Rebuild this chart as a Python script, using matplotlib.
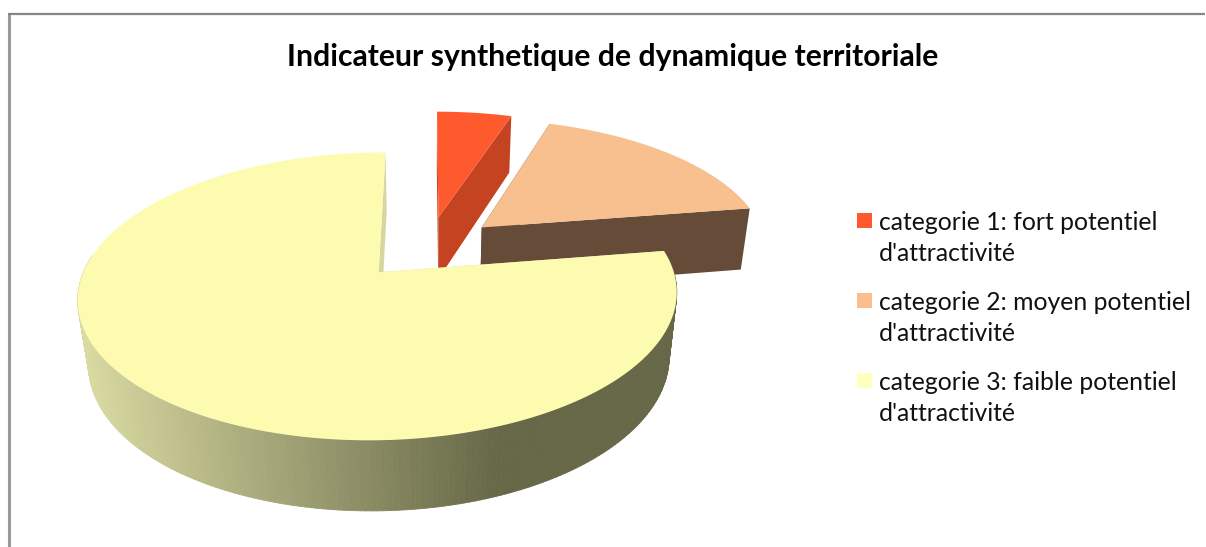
import matplotlib
matplotlib.use("Agg")
import matplotlib.pyplot as plt
import numpy as np
from matplotlib.collections import PolyCollection
from matplotlib.colors import LinearSegmentedColormap

plt.rcParams["font.family"] = ["Lato", "DejaVu Sans"]

TITLE = "Indicateur synthetique de dynamique territoriale"
CATEGORIES = [
    "categorie 1: fort potentiel\nd'attractivité",
    "categorie 2: moyen potentiel\nd'attractivité",
    "categorie 3: faible potentiel\nd'attractivité",
]
VALUES = [5, 17.5, 77.5]

TOP_COLORS = ["#FF5A2E", "#F7C08E", "#FCFBB0"]
WALL_COLORS = ["#C44320", "#664C38", "#D8D6A0"]
LEGEND_COLORS = ["#FF5A2E", "#FBBF8F", "#FFFFBE"]

# vue en perspective (calée à la main sur le rendu)
CX, CY = 427.5, 247.5
SCALE_X, SCALE_Y = 286.5, 131.8
PERSP = 0.162
HEIGHT_Y, HEIGHT_W = 65, 0.03
EXPLODE_X, EXPLODE_Y = 0.255, 0.24


def project(x, y, low=False):
    """Disque unité -> pixels, low=True pour la face du bas."""
    h, dw = (HEIGHT_Y, HEIGHT_W) if low else (0, 0)
    w = 1 + PERSP * y + dw
    return CX + SCALE_X * x / w, CY - (SCALE_Y * y - h) / w


def draw_slice(ax, start, end, top_color, wall_color, gradient=None):
    """Part de camembert entre deux angles (sens horaire depuis le haut)."""
    mid = (start + end) / 2
    ox, oy = EXPLODE_X * np.sin(mid), EXPLODE_Y * np.cos(mid)
    theta = np.linspace(start, end, 300)
    x = ox + np.sin(theta)
    y = oy + np.cos(theta)

    # parois radiales
    for a in (start, end):
        xs = [ox, ox + np.sin(a)]
        ys = [oy, oy + np.cos(a)]
        t = project(np.array(xs), np.array(ys))
        b = project(np.array(xs), np.array(ys), low=True)
        ax.fill([t[0][0], t[0][1], b[0][1], b[0][0]],
                [t[1][0], t[1][1], b[1][1], b[1][0]],
                color=wall_color, lw=0, zorder=2)

    # paroi extérieure, seulement la partie tournée vers l'avant
    tx, ty = project(x, y)
    bx, by = project(x, y, low=True)
    front = [i for i in range(len(x) - 1) if np.cos(theta[i]) < 0.12]
    quads = [[(tx[i], ty[i]), (tx[i + 1], ty[i + 1]), (bx[i + 1], by[i + 1]), (bx[i], by[i])]
             for i in front]
    if gradient is None:
        colors = [wall_color] * len(quads)
    else:
        colors = [gradient(float(np.clip((bx[i] - 90) / 410, 0, 1))) for i in front]
    if quads:
        ax.add_collection(PolyCollection(quads, facecolors=colors, edgecolors=colors,
                                         linewidths=0.6, zorder=2))

    # face du dessus
    px = np.concatenate([[ox], x])
    py = np.concatenate([[oy], y])
    fx, fy = project(px, py)
    ax.fill(fx, fy, color=top_color, lw=0, zorder=3)


def main():
    fig = plt.figure(figsize=(12.06, 5.47), dpi=100)
    ax = fig.add_axes([0, 0, 1, 1])
    ax.set_xlim(0, 1206)
    ax.set_ylim(547, 0)
    ax.axis("off")

    # cadre du graphique, coupé en bas et à droite
    ax.plot([9, 9], [547, 13.5], color="#999999", lw=2.2, solid_capstyle="butt")
    ax.plot([8, 1205], [13.5, 13.5], color="#868686", lw=1.6, solid_capstyle="butt")

    ax.text(613, 57, TITLE, ha="center", va="center", fontsize=21.7, fontweight="bold")

    side_grad = LinearSegmentedColormap.from_list("side", ["#DADAA2", "#666847"])
    edges = 2 * np.pi * np.cumsum([0] + VALUES) / sum(VALUES)
    for i in range(len(VALUES)):
        grad = side_grad if i == 2 else None
        draw_slice(ax, edges[i], edges[i + 1], TOP_COLORS[i], WALL_COLORS[i], grad)

    # légende
    for i, label in enumerate(CATEGORIES):
        y0 = 220.5 + 80 * i
        ax.fill([857, 872, 872, 857], [y0 - 7.5, y0 - 7.5, y0 + 7.5, y0 + 7.5],
                color=LEGEND_COLORS[i], lw=0)
        first, second = label.split("\n")
        ax.text(879, y0, first, va="center_baseline", fontsize=17.8, color="#111111")
        ax.text(879, y0 + 31, second, va="center_baseline", fontsize=17.8, color="#111111")

    fig.savefig("out.png", dpi=100)
    plt.close(fig)


if __name__ == "__main__":
    main()
